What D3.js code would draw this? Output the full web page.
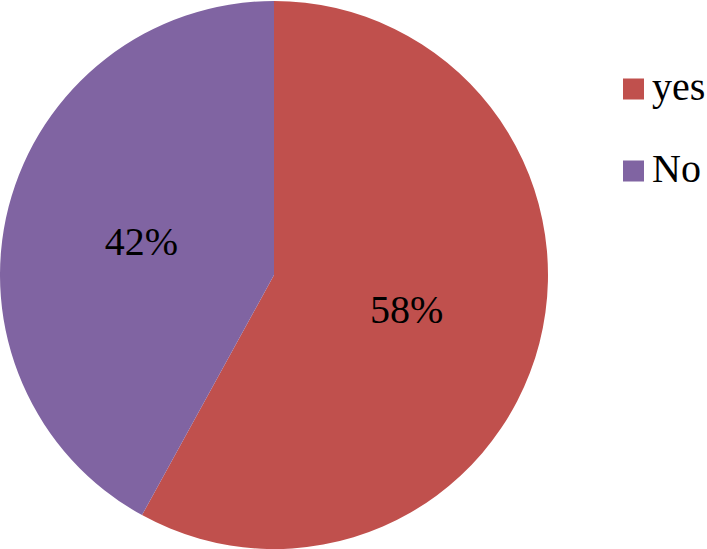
<!DOCTYPE html>
<html><head><meta charset="utf-8">
<script src="https://cdn.jsdelivr.net/npm/d3@7"></script>
<style>svg text{font-family:"Liberation Serif" !important;}</style>
</head><body style="margin:0">
<script>
const categories = ["yes", "No"];
const values = [58, 42];
const labels = ["58%", "42%"];
const colors = ["#C0504D", "#8064A2"];

const W = 707, H = 549;
const svg = d3.select("body").append("svg").attr("width", W).attr("height", H)
  .style("display", "block").attr("font-family", "Liberation Serif");
const cx = 274, cy = 275, r = 274;

const pie = d3.pie().sort(null).value(d => d.v);
const data = pie(categories.map((c, i) => ({c, v: values[i], l: labels[i], col: colors[i]})));
const arc = d3.arc().innerRadius(0).outerRadius(r);

const g = svg.append("g").attr("transform", `translate(${cx},${cy})`);
g.selectAll("path").data(data).enter().append("path")
  .attr("d", arc).attr("fill", d => d.data.col);

data.forEach(d => {
  const p = arc.centroid(d);
  svg.append("text")
    .attr("x", cx + p[0]).attr("y", cy + p[1] + 14)
    .attr("text-anchor", "middle")
    .attr("font-size", 40)
    .style("font-family", "Liberation Serif")
    .attr("fill", "#000")
    .text(d.data.l);
});

const ly = d3.scalePoint().domain(categories).range([89, 171]);
categories.forEach((c, i) => {
  svg.append("rect").attr("x", 623).attr("y", ly(c) - 10.5).attr("width", 21).attr("height", 21).attr("fill", colors[i]);
  svg.append("text").attr("x", 652).attr("y", ly(c) + 11)
    .attr("font-size", 40)
    .style("font-family", "Liberation Serif")
    .attr("fill", "#000").text(c);
});
</script>
</body></html>
